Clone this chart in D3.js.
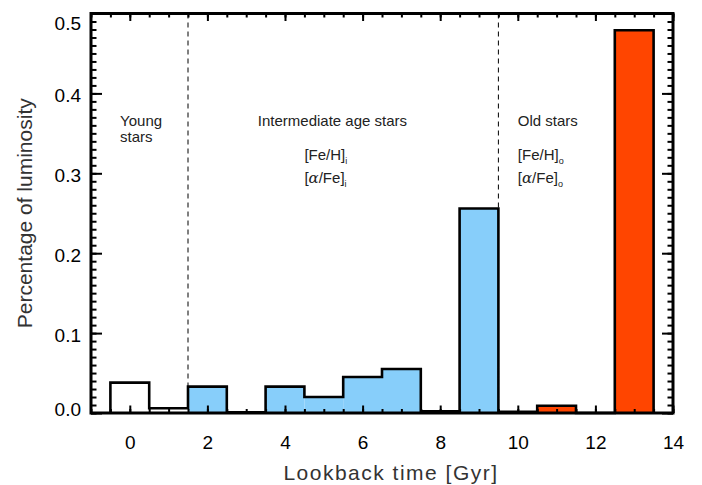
<!DOCTYPE html>
<html>
<head>
<meta charset="utf-8">
<script src="https://cdn.jsdelivr.net/npm/d3@7"></script>
<style>
  html, body { margin: 0; padding: 0; background: #fff; }
  svg { display: block; font-family: "Liberation Sans", Arial, Helvetica, sans-serif; }
</style>
</head>
<body>
<svg id="chart" width="702" height="485"></svg>
<script>
// Lookback-time bins (Gyr, bin centres) and luminosity fraction per bin
const binCenters = [0, 1, 2, 3, 4, 5, 6, 7, 8, 9, 10, 11, 12, 13];
const luminosity = [0.038, 0.006, 0.033, 0.001, 0.033, 0.020, 0.045, 0.055, 0.002, 0.256, 0.0015, 0.009, 0, 0.479];
const population = ["young", "young", "inter", "inter", "inter", "inter", "inter", "inter", "inter", "inter", "old", "old", "old", "old"];
const populationFill = { young: "#ffffff", inter: "#87CEFA", old: "#FF4500" };

// Population boundaries (Gyr)
const boundaries = [1.5, 9.5];

// Axis ticks
const xMajorTicks = [0, 2, 4, 6, 8, 10, 12, 14];
const yMajorTicks = [0.0, 0.1, 0.2, 0.3, 0.4, 0.5];

const svg = d3.select("#chart");
const pLeft = 91, pRight = 673, pTop = 13.5, pBottom = 413;

const x = d3.scaleLinear().domain([-1, 14]).range([pLeft, pRight]);
const y = d3.scaleLinear().domain([0, 0.5]).range([pBottom, pTop]);
const binWidth = 1;

// dashed separators between populations
svg.append("g").selectAll("line").data(boundaries).join("line")
  .attr("x1", d => x(d)).attr("x2", d => x(d))
  .attr("y1", y(0.5)).attr("y2", y(0))
  .attr("stroke", "#000").attr("stroke-width", 1)
  .attr("stroke-dasharray", "5,4");

// filled bins
svg.append("g").selectAll("rect").data(binCenters).join("rect")
  .attr("x", (d) => x(d - binWidth / 2))
  .attr("width", x(binWidth) - x(0))
  .attr("y", (d, i) => y(luminosity[i]))
  .attr("height", (d, i) => y(0) - y(luminosity[i]))
  .attr("fill", (d, i) => populationFill[population[i]]);

// histogram outline as a stepped line
const stepPts = [[binCenters[0] - binWidth / 2, 0]];
binCenters.forEach((c, i) => {
  stepPts.push([c - binWidth / 2, luminosity[i]]);
  stepPts.push([c + binWidth / 2, luminosity[i]]);
});
stepPts.push([binCenters[binCenters.length - 1] + binWidth / 2, 0]);
svg.append("path")
  .datum(stepPts)
  .attr("d", d3.line().x(d => x(d[0])).y(d => y(d[1])))
  .attr("fill", "none").attr("stroke", "#000").attr("stroke-width", 2.6)
  .attr("stroke-linejoin", "miter");

// axes with inward ticks
function styleAxis(g) {
  g.select(".domain").remove();
  g.selectAll(".tick line").attr("stroke", "#000").attr("stroke-width", 2);
  g.selectAll(".tick text").attr("fill", "#000").attr("font-size", 19)
    .attr("font-family", "Liberation Sans, Arial, sans-serif");
}

const xMinor = d3.range(-1, 14.001, 0.5);
const yMinor = d3.range(0, 0.5001, 0.01);

// bottom
svg.append("g").attr("transform", `translate(0,${pBottom})`)
  .call(d3.axisBottom(x).tickValues(xMinor).tickSize(-4).tickFormat(""))
  .call(styleAxis);
svg.append("g").attr("transform", `translate(0,${pBottom})`)
  .call(d3.axisBottom(x).tickValues(xMajorTicks).tickSize(-7.5).tickPadding(23).tickFormat(d3.format("d")))
  .call(styleAxis);
// top
svg.append("g").attr("transform", `translate(0,${pTop})`)
  .call(d3.axisTop(x).tickValues(xMinor).tickSize(-4).tickFormat(""))
  .call(styleAxis);
svg.append("g").attr("transform", `translate(0,${pTop})`)
  .call(d3.axisTop(x).tickValues(xMajorTicks).tickSize(-7.5).tickFormat(""))
  .call(styleAxis);
// left
svg.append("g").attr("transform", `translate(${pLeft},0)`)
  .call(d3.axisLeft(y).tickValues(yMinor).tickSize(-5.5).tickFormat(""))
  .call(styleAxis);
const yAx = svg.append("g").attr("transform", `translate(${pLeft},0)`)
  .call(d3.axisLeft(y).tickValues(yMajorTicks).tickSize(-11).tickPadding(10).tickFormat(d3.format(".1f")))
  .call(styleAxis);
yAx.selectAll(".tick text").attr("dy", d => d === 0.5 ? "0.85em" : d === 0 ? "0.12em" : "0.42em");
// right
svg.append("g").attr("transform", `translate(${pRight},0)`)
  .call(d3.axisRight(y).tickValues(yMinor).tickSize(-5.5).tickFormat(""))
  .call(styleAxis);
svg.append("g").attr("transform", `translate(${pRight},0)`)
  .call(d3.axisRight(y).tickValues(yMajorTicks).tickSize(-11).tickFormat(""))
  .call(styleAxis);

// frame
svg.append("rect")
  .attr("x", pLeft).attr("y", pTop)
  .attr("width", pRight - pLeft).attr("height", pBottom - pTop)
  .attr("fill", "none").attr("stroke", "#000").attr("stroke-width", 3);

// axis titles
svg.append("text")
  .attr("x", 391).attr("y", 480)
  .attr("text-anchor", "middle").attr("font-size", 21).attr("fill", "#333")
  .attr("letter-spacing", 1.5)
  .text("Lookback time [Gyr]");
svg.append("text")
  .attr("transform", `translate(32,${(pTop + pBottom) / 2}) rotate(-90)`)
  .attr("text-anchor", "middle").attr("font-size", 21).attr("fill", "#333")
  .text("Percentage of luminosity");

// population annotations
const annot = svg.append("g").attr("font-size", 15).attr("fill", "#222");
annot.append("text").attr("x", x(-0.25)).attr("y", 126).text("Young");
annot.append("text").attr("x", x(-0.25)).attr("y", 142).text("stars");
annot.append("text").attr("x", x(3.3)).attr("y", 126).text("Intermediate age stars");
annot.append("text").attr("x", x(10.0)).attr("y", 126).text("Old stars");

function abundance(xPos, yPos, species, sub) {
  const t = annot.append("text").attr("x", xPos).attr("y", yPos);
  if (species === "alpha") {
    t.append("tspan").text("[");
    t.append("tspan").attr("font-family", "DejaVu Serif, serif").attr("font-style", "italic").text("α");
    t.append("tspan").text("/Fe]");
  } else {
    t.append("tspan").text("[Fe/H]");
  }
  t.append("tspan").attr("font-size", 9).attr("dy", 4).text(sub);
}
abundance(x(4.5), 160, "feh", "i");
abundance(x(4.5), 183, "alpha", "i");
abundance(x(10.0), 160, "feh", "o");
abundance(x(10.0), 183, "alpha", "o");
</script>
</body>
</html>
